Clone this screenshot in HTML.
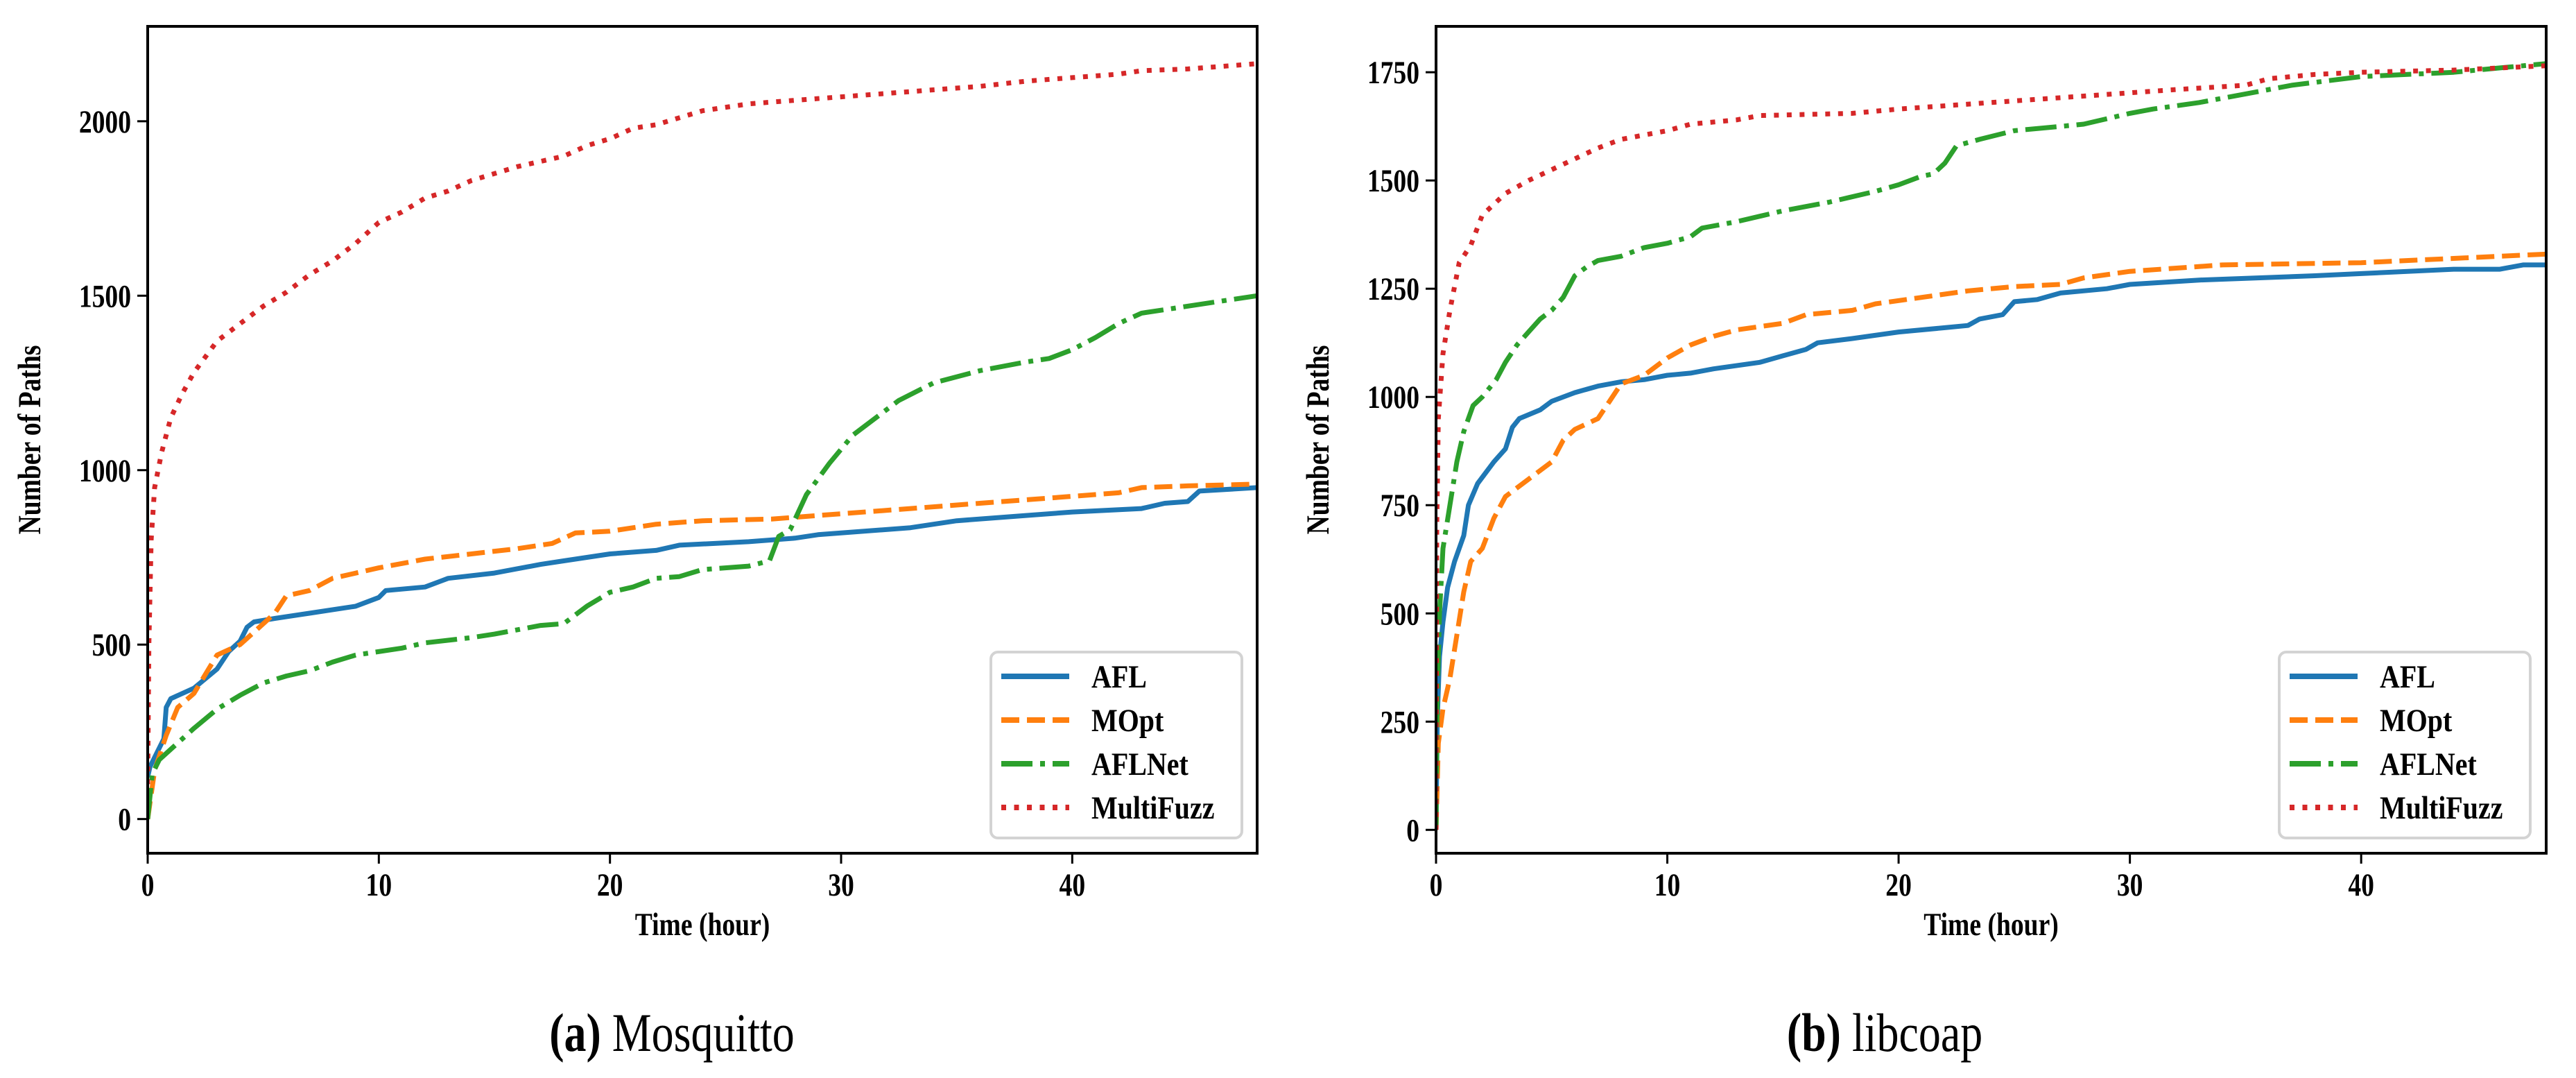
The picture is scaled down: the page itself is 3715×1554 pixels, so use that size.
<!DOCTYPE html>
<html><head><meta charset="utf-8"><style>
html,body{margin:0;padding:0;background:#fff;}
svg{display:block;}
text{font-family:"Liberation Serif",serif;}
</style></head><body>
<svg id="fig" width="3715" height="1554" viewBox="0 0 3715 1554" xmlns="http://www.w3.org/2000/svg"></svg>
<script>
// ---- Data: Mosquitto ----
const mosqAflT=[0,0.1,0.7,0.8,1,2,3,3.5,4,4.3,4.6,5.5,7,9,10,10.3,12,13,15,17,18,20,22,23,26,28,29,33,35,38,40,43,44,45,45.5,48];
const mosqAflV=[120,150,230,320,345,375,430,480,510,550,565,575,590,610,635,655,665,690,705,730,740,760,770,785,795,805,815,835,855,870,880,890,905,910,940,950];
const mosqMoptT=[0,0.3,0.8,1.3,2,3,4,5,5.5,6,7,8,10,12,14,16,17.5,18.5,20,22,24,27,30,33,36,39,42,43,45,48];
const mosqMoptV=[0,140,240,320,360,470,500,560,590,640,655,690,720,745,760,775,790,820,825,845,855,860,875,890,905,920,935,950,955,960];
const mosqNetT=[0,0.2,0.5,1,2,3,4,5,6,7,8,9,11,12,14,15,17,18,19,20,21,22,23,24,26,26.9,27.3,27.8,28.5,29.5,30.5,31.5,32.5,34,36,38,39,40,41,42,43,44,46,48];
const mosqNetV=[0,130,170,200,260,315,355,390,410,425,450,470,490,505,520,530,555,560,610,650,665,690,695,715,725,740,810,830,930,1020,1100,1150,1200,1250,1285,1310,1320,1345,1380,1420,1450,1460,1480,1500];
const mosqMfT=[0,0.05,0.15,0.3,0.6,1,1.5,2,3,4,5,6,7,8,9,10,11,12,13,14,16,18,19,20,21,22,23,24,26,28,30,32,34,36,38,40,42,43,45,48];
const mosqMfV=[100,500,800,950,1050,1150,1220,1280,1370,1420,1470,1510,1560,1600,1650,1710,1740,1780,1800,1830,1870,1900,1930,1950,1980,1990,2010,2030,2050,2060,2070,2080,2090,2100,2115,2125,2135,2145,2150,2165];
// ---- Data: libcoap ----
const coapAflT=[0,0.05,0.15,0.3,0.5,0.8,1.2,1.4,1.8,2.5,3,3.3,3.6,4.5,5,6,7,8,9,10,11,12,14,15,16,16.5,18,20,22,23,23.5,24.5,25,26,27,29,30,33,38,40,44,46,47,48];
const coapAflV=[0,250,400,480,560,620,680,750,800,850,880,930,950,970,990,1010,1025,1035,1040,1050,1055,1065,1080,1095,1110,1125,1135,1150,1160,1165,1180,1190,1220,1225,1240,1250,1260,1270,1280,1285,1295,1295,1305,1305];
const coapMoptT=[0,0.1,0.3,0.6,0.9,1.2,1.5,2,2.5,3,4,5,5.5,6,7,7.5,8,9,10,11,12,13,15,16,18,19,21,23,25,27,28,30,34,40,44,48];
const coapMoptV=[0,200,280,350,450,550,620,650,720,770,810,850,900,925,950,990,1030,1050,1090,1120,1140,1155,1170,1190,1200,1215,1230,1245,1255,1260,1275,1290,1305,1310,1320,1330];
const coapNetT=[0,0.05,0.15,0.3,0.6,0.9,1.2,1.6,2,2.6,3,3.5,4,4.5,5,5.5,6,6.5,7,8,9,10,11,11.5,13,15,17,19,20,21,21.5,22,22.5,23.5,25,27,28,30,31,33,35,37,40,42,44,46,48];
const coapNetV=[0,300,500,650,750,850,920,980,1000,1040,1080,1120,1150,1180,1200,1230,1280,1300,1315,1325,1345,1355,1370,1390,1405,1430,1450,1475,1490,1510,1515,1540,1580,1595,1615,1625,1630,1655,1665,1680,1700,1720,1740,1745,1750,1760,1770];
const coapMfT=[0,0.03,0.1,0.3,0.6,1,1.5,2,3,4,5,6,7,8,10,11,13,14,18,20,24,28,32,35,36,38,40,44,48];
const coapMfV=[0,700,950,1100,1200,1310,1350,1420,1470,1500,1525,1550,1575,1595,1615,1630,1640,1650,1655,1665,1680,1695,1710,1720,1735,1745,1750,1755,1765];
const xTicks=[0,10,20,30,40];
const mosqYTicks=[0,500,1000,1500,2000];
const coapYTicks=[0,250,500,750,1000,1250,1500,1750];
const seriesNames=["AFL","MOpt","AFLNet","MultiFuzz"];
const seriesColors=["#1f77b4","#ff7f0e","#2ca02c","#d62728"];
const seriesDash=["","26,11","45,11,7,11","7,11.5"];

const NS="http://www.w3.org/2000/svg";
const svg=document.getElementById('fig');
function mk(tag,attrs,parent){const e=document.createElementNS(NS,tag);for(const k in attrs)e.setAttribute(k,attrs[k]);(parent||svg).appendChild(e);return e;}

function drawChart(cfg){
  const g=mk('g',{});
  
  
  const L=cfg.left,R=cfg.right,T=38,B=1230;
  const xs=t=>L+(t-0)/(48-0)*(R-L);
  const ys=v=>B-(v-cfg.ymin)/(cfg.ymax-cfg.ymin)*(B-T);
  const cp=mk('clipPath',{id:'clip-'+cfg.name},g);
  mk('rect',{x:L,y:T,width:R-L,height:B-T},cp);
  const lines=mk('g',{'clip-path':'url(#clip-'+cfg.name+')'},g);
  cfg.series.forEach((s,i)=>{
    const pts=s[0].map((t,j)=>xs(t).toFixed(1)+','+ys(s[1][j]).toFixed(1)).join(' ');
    const pl=mk('polyline',{points:pts,fill:'none',stroke:seriesColors[i],'stroke-width':7,'stroke-linejoin':'round'},lines);
    if(seriesDash[i])pl.setAttribute('stroke-dasharray',seriesDash[i]);
    
    
  });
  const fr=mk('rect',{x:L,y:T,width:R-L,height:B-T,fill:'none',stroke:'#000','stroke-width':4},g);
  
  
  xTicks.forEach(t=>{
    const x=xs(t);
    mk('line',{x1:x,y1:B,x2:x,y2:B+15,stroke:'#000','stroke-width':3},g);
    const tx=mk('text',{x:0,y:0,'font-size':47,'font-weight':'bold','text-anchor':'middle',transform:`translate(${x},${B+61}) scale(0.8,1)`},g);
    tx.textContent=t;
    
    
  });
  cfg.yticks.forEach(v=>{
    const y=ys(v);
    mk('line',{x1:L-15,y1:y,x2:L,y2:y,stroke:'#000','stroke-width':3},g);
    const tx=mk('text',{x:0,y:0,'font-size':47,'font-weight':'bold','text-anchor':'end',transform:`translate(${L-24},${y+16}) scale(0.8,1)`},g);
    tx.textContent=v;
    
    
  });
  const xt=mk('text',{x:0,y:0,'font-size':47,'font-weight':'bold','text-anchor':'middle',transform:`translate(${(L+R)/2},${B+118}) scale(0.8,1)`},g);
  xt.textContent='Time (hour)';
  
  
  const yt=mk('text',{x:0,y:0,'font-size':47,'font-weight':'bold','text-anchor':'middle',transform:`translate(${L-155},${(T+B)/2}) rotate(-90) scale(0.8,1)`},g);
  yt.textContent='Number of Paths';
  
  
  const lg=mk('g',{},g);
  
  
  const lx=L+1216,ly=940;
  mk('rect',{x:lx,y:ly,width:362,height:268,rx:10,fill:'#fff',stroke:'#d3d3d3','stroke-width':4},lg);
  seriesNames.forEach((n,i)=>{
    const cy=ly+35+i*63;
    const ln=mk('line',{x1:lx+15,y1:cy,x2:lx+113,y2:cy,stroke:seriesColors[i],'stroke-width':8},lg);
    if(seriesDash[i])ln.setAttribute('stroke-dasharray',seriesDash[i]);
    
    
    const tx=mk('text',{x:0,y:0,'font-size':47,'font-weight':'bold',transform:`translate(${lx+145},${cy+16}) scale(0.85,1)`},lg);
    tx.textContent=n;
    
    
  });
  const cap=mk('text',{x:0,y:0,'font-size':78,'text-anchor':'middle',transform:`translate(${cfg.capX},1515) scale(0.82,1)`},g);
  const b=mk('tspan',{'font-weight':'bold'},cap);b.textContent=cfg.capA;
  const r=mk('tspan',{},cap);r.textContent=cfg.capB;
  
  
}
drawChart({name:'chart-mosquitto',left:213,right:1813,ymin:-98,ymax:2272,yticks:mosqYTicks,capX:969,capA:'(a)',capB:' Mosquitto',
  series:[[mosqAflT,mosqAflV],[mosqMoptT,mosqMoptV],[mosqNetT,mosqNetV],[mosqMfT,mosqMfV]]});
drawChart({name:'chart-libcoap',left:2071,right:3672,ymin:-54,ymax:1856,yticks:coapYTicks,capX:2718,capA:'(b)',capB:' libcoap',
  series:[[coapAflT,coapAflV],[coapMoptT,coapMoptV],[coapNetT,coapNetV],[coapMfT,coapMfV]]});
</script>
</body></html>
